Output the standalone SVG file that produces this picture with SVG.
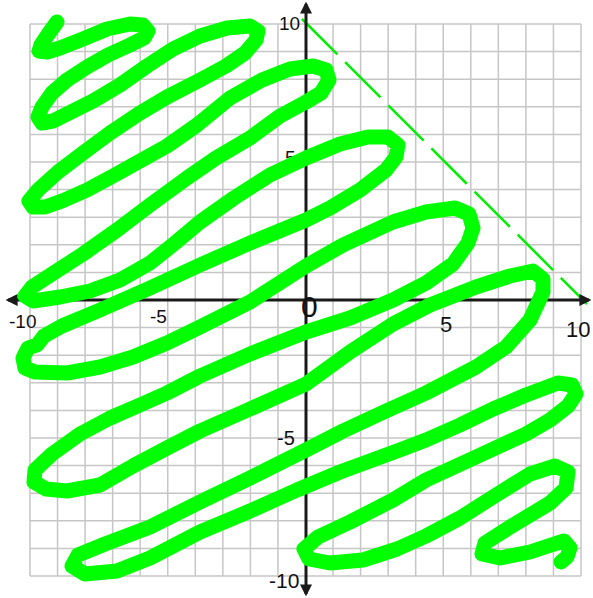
<svg xmlns="http://www.w3.org/2000/svg" width="593" height="598" viewBox="0 0 593 598">
<style>
.grid{stroke:#c6c6c6;stroke-width:1.5;fill:none}
.axis{stroke:#1a1a1a;stroke-width:3;fill:none}
.lbl{font-family:"Liberation Sans",Arial,sans-serif;fill:#111}
.scribble{stroke:#00ff00;stroke-width:15;fill:none;stroke-linecap:round;stroke-linejoin:round}
.dash{stroke:#00ee00;stroke-width:2.5;fill:none;stroke-dasharray:50 11}
</style>
<defs>
<marker id="arr" viewBox="0 0 10 10" refX="8" refY="5" markerWidth="4" markerHeight="4" orient="auto-start-reverse">
<path d="M0,0 L10,5 L0,10 Z" fill="#1a1a1a"/>
</marker>
</defs>
<rect width="593" height="598" fill="#ffffff"/>
<g id="grid">
<path class="grid" d="M30,24V576M57.55,24V576M85.1,24V576M112.65,24V576M140.2,24V576M167.75,24V576M195.3,24V576M222.85,24V576M250.4,24V576M277.95,24V576M333.05,24V576M360.6,24V576M388.15,24V576M415.7,24V576M443.25,24V576M470.8,24V576M498.35,24V576M525.9,24V576M553.45,24V576M581,24V576"/>
<path class="grid" d="M30,24H581M30,51.6H581M30,79.2H581M30,106.8H581M30,134.4H581M30,162H581M30,189.6H581M30,217.2H581M30,244.8H581M30,272.4H581M30,327.6H581M30,355.2H581M30,382.8H581M30,410.4H581M30,438H581M30,465.6H581M30,493.2H581M30,520.8H581M30,548.4H581M30,576H581"/>
</g>
<g id="boundary">
<path class="dash" d="M302,19 L587,304"/>
</g>
<g id="axes">
<path class="axis" d="M8,300 L589,300" marker-start="url(#arr)" marker-end="url(#arr)"/>
<path class="axis" d="M306,4 L306,594" marker-start="url(#arr)" marker-end="url(#arr)"/>
</g>
<g id="labels">
<text class="lbl" x="279" y="30" font-size="19">10</text>
<text class="lbl" x="285" y="164" font-size="19">5</text>
<text class="lbl" x="9" y="328" font-size="19">-10</text>
<text class="lbl" x="150" y="323" font-size="19">-5</text>
<text class="lbl" x="301" y="317" font-size="30">0</text>
<text class="lbl" x="440" y="332" font-size="22">5</text>
<text class="lbl" x="566" y="337" font-size="22">10</text>
<text class="lbl" x="277" y="445" font-size="20">-5</text>
<text class="lbl" x="269" y="588" font-size="21">-10</text>
</g>
<g id="scribble">
<path class="scribble" d="M57,22 L49,33 L41,45 L39,51 L47,52 L60,48 L83,39 L107,29 L130,24 L143,25 L148,31 L144,38 L130,45 L108,55 L87,67 L67,80 L52,93 L42,107 L38,117 L42,123 L53,121 L67,114 L93,101 L120,85 L147,66 L173,49 L200,36 L227,28 L250,26 L258,31 L256,40 L245,53 L226,66 L200,80 L167,97 L140,113 L110,133 L83,153 L58,172 L38,190 L29,201 L33,207 L45,207 L62,201 L87,190 L113,176 L140,161 L167,146 L197,125 L230,98 L262,80 L290,69 L313,66 L326,70 L329,80 L321,93 L306,102 L280,116 L250,138 L216,158 L187,178 L150,205 L117,230 L83,254 L52,274 L32,287 L25,296 L33,301 L60,297 L90,291 L120,280 L150,263 L175,243 L200,222 L234,198 L270,175 L306,158 L340,144 L368,137 L388,137 L398,145 L396,157 L386,170 L360,190 L330,208 L306,220 L250,243 L200,265 L150,288 L100,310 L62,326 L44,336 L37,345 L28,348 L23,358 L25,368 L35,372 L67,373 L100,367 L133,357 L167,343 L200,327 L250,302 L306,266 L343,245 L393,222 L426,212 L455,208 L469,214 L473,228 L468,243 L453,264 L426,283 L393,300 L350,318 L306,332 L250,354 L200,376 L167,393 L140,405 L110,418 L80,434 L52,454 L35,470 L34,482 L46,489 L67,491 L100,485 L133,466 L167,448 L200,431 L250,409 L306,384 L350,352 L393,324 L430,305 L476,287 L510,276 L533,271 L543,279 L543,292 L530,320 L506,347 L476,367 L426,393 L386,411 L343,431 L306,450 L250,478 L200,502 L150,527 L105,544 L78,555 L72,566 L85,574 L117,571 L150,558 L200,532 L250,511 L297,490 L340,472 L397,451 L426,440 L460,425 L493,409 L526,395 L558,383 L572,385 L576,394 L568,406 L550,420 L526,434 L476,457 L426,480 L393,500 L350,522 L318,537 L304,549 L309,559 L330,563 L363,560 L397,549 L426,536 L460,518 L493,497 L530,474 L555,466 L568,472 L566,488 L550,503 L510,527 L485,543 L482,554 L500,558 L530,552 L548,546 L564,541 L570,548 L567,557 L561,562"/>
</g>
</svg>
